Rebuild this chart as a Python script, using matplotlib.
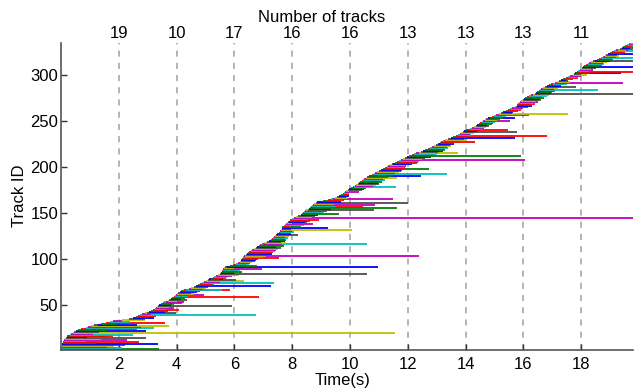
import numpy as np
import matplotlib
matplotlib.use("Agg")
import matplotlib.pyplot as plt

# track start / end times (s), track ID = position in list (1-based)
starts = [
    0.0, 0.0, 0.0, 0.02, 0.03, 0.04, 0.05, 0.05, 0.07, 0.08,
    0.1, 0.12, 0.15, 0.18, 0.2, 0.22, 0.27, 0.3, 0.35, 0.4,
    0.45, 0.52, 0.6, 0.7, 0.85, 0.95, 1.05, 1.15, 1.28, 1.4,
    1.55, 1.68, 1.8, 2.1, 2.35, 2.5, 2.6, 2.68, 2.75, 2.8,
    2.9, 2.98, 3.05, 3.12, 3.2, 3.25, 3.28, 3.32, 3.36, 3.4,
    3.45, 3.52, 3.58, 3.64, 3.7, 3.75, 3.8, 3.85, 3.9, 3.95,
    3.98, 4.02, 4.06, 4.1, 4.15, 4.25, 4.33, 4.42, 4.5, 4.6,
    4.67, 4.74, 4.81, 4.88, 4.95, 5.01, 5.07, 5.13, 5.19, 5.25,
    5.31, 5.37, 5.43, 5.49, 5.53, 5.56, 5.58, 5.6, 5.62, 5.64,
    5.66, 5.75, 5.85, 5.95, 6.05, 6.12, 6.2, 6.22, 6.24, 6.26,
    6.28, 6.3, 6.32, 6.36, 6.4, 6.44, 6.48, 6.52, 6.56, 6.62,
    6.68, 6.73, 6.78, 6.84, 6.9, 6.95, 7.0, 7.06, 7.12, 7.18,
    7.25, 7.29, 7.33, 7.37, 7.4, 7.44, 7.49, 7.53, 7.55, 7.57,
    7.59, 7.61, 7.63, 7.64, 7.65, 7.7, 7.74, 7.78, 7.83, 7.86,
    7.89, 7.92, 7.94, 8.0, 8.07, 8.14, 8.21, 8.29, 8.33, 8.37,
    8.41, 8.45, 8.49, 8.53, 8.57, 8.61, 8.65, 8.69, 8.73, 8.77,
    8.81, 8.85, 9.05, 9.25, 9.33, 9.4, 9.47, 9.54, 9.62, 9.7,
    9.74, 9.78, 9.82, 9.86, 9.92, 9.98, 10.04, 10.09, 10.12, 10.17,
    10.22, 10.27, 10.31, 10.36, 10.41, 10.46, 10.5, 10.55, 10.6, 10.64,
    10.7, 10.76, 10.82, 10.88, 10.93, 11.0, 11.07, 11.14, 11.21, 11.28,
    11.33, 11.39, 11.45, 11.5, 11.56, 11.62, 11.69, 11.76, 11.83, 11.9,
    11.97, 12.05, 12.13, 12.21, 12.29, 12.37, 12.45, 12.53, 12.61, 12.69,
    12.76, 12.83, 12.9, 12.97, 13.04, 13.1, 13.16, 13.21, 13.26, 13.3,
    13.39, 13.48, 13.57, 13.66, 13.75, 13.8, 13.85, 13.9, 13.95, 14.0,
    14.07, 14.14, 14.21, 14.28, 14.35, 14.4, 14.45, 14.5, 14.55, 14.6,
    14.66, 14.72, 14.78, 14.84, 14.9, 14.98, 15.06, 15.14, 15.22, 15.3,
    15.38, 15.46, 15.54, 15.62, 15.7, 15.73, 15.76, 15.79, 15.82, 15.85,
    15.89, 15.93, 15.97, 16.01, 16.05, 16.12, 16.19, 16.26, 16.33, 16.4,
    16.44, 16.48, 16.52, 16.56, 16.6, 16.67, 16.74, 16.81, 16.88, 16.95,
    17.02, 17.09, 17.16, 17.23, 17.3, 17.38, 17.46, 17.54, 17.62, 17.7,
    17.74, 17.78, 17.82, 17.86, 17.9, 17.94, 17.98, 18.02, 18.06, 18.1,
    18.16, 18.22, 18.28, 18.34, 18.4, 18.47, 18.54, 18.61, 18.68, 18.75,
    18.81, 18.87, 18.93, 18.99, 19.05, 19.12, 19.19, 19.26, 19.33, 19.4,
    19.46, 19.52, 19.58, 19.64, 19.7,
]
ends = [
    2.36, 3.39, 1.95, 2.12, 1.6, 1.84, 2.2, 3.37, 1.2, 2.7,
    0.86, 2.3, 1.4, 2.95, 0.9, 1.55, 1.8, 2.5, 1.1, 11.55,
    1.3, 2.95, 1.6, 2.64, 3.22, 2.77, 3.73, 1.9, 2.64, 1.95,
    3.6, 2.4, 2.12, 2.9, 2.9, 3.22, 3.0, 3.3, 6.76, 3.1,
    3.5, 3.97, 3.6, 3.7, 4.08, 3.65, 3.9, 3.75, 5.93, 3.8,
    3.9, 4.2, 3.95, 4.25, 4.0, 4.35, 4.15, 4.3, 6.85, 4.4,
    4.94, 4.6, 4.5, 4.7, 4.8, 5.85, 5.56, 4.9, 5.0, 5.1,
    7.25, 5.3, 5.2, 7.37, 5.5, 6.33, 6.05, 5.6, 5.45, 5.7,
    5.75, 5.9, 6.15, 10.6, 6.0, 6.25, 6.1, 6.2, 6.96, 5.98,
    6.3, 10.95, 6.77, 6.4, 6.5, 6.55, 6.6, 6.7, 6.75, 6.8,
    7.54, 7.0, 12.4, 7.1, 7.15, 7.31, 7.2, 7.35, 7.4, 7.45,
    7.5, 7.6, 7.45, 7.7, 7.55, 10.6, 7.65, 7.79, 7.6, 7.75,
    7.8, 7.7, 7.85, 7.75, 7.9, 8.2, 7.95, 7.85, 7.95, 8.05,
    7.98, 10.07, 7.97, 9.24, 8.3, 7.9, 8.4, 8.72, 7.99, 8.5,
    8.45, 8.6, 8.92, 8.55, 19.8, 8.7, 8.8, 8.9, 9.63, 9.0,
    9.1, 9.2, 9.3, 10.84, 9.35, 11.64, 10.45, 9.5, 10.87, 9.45,
    12.0, 9.7, 9.6, 9.8, 9.75, 11.5, 9.9, 9.85, 9.95, 9.9,
    9.97, 9.98, 10.3, 9.95, 10.4, 10.5, 10.55, 10.6, 11.6, 10.8,
    10.9, 11.0, 10.95, 11.1, 11.05, 11.2, 11.15, 11.62, 11.3, 12.45,
    11.4, 11.5, 13.35, 11.55, 11.7, 11.75, 11.8, 12.74, 11.9, 11.85,
    11.95, 11.9, 11.98, 12.15, 12.3, 12.35, 12.4, 16.07, 12.5, 12.6,
    12.8, 15.9, 12.9, 13.0, 13.1, 13.75, 13.05, 13.2, 13.3, 13.25,
    13.4, 13.35, 13.5, 13.45, 13.6, 13.55, 14.34, 13.7, 13.8, 14.05,
    13.95, 15.7, 14.1, 16.8, 14.2, 14.15, 14.3, 15.76, 14.4, 14.45,
    15.47, 14.6, 14.65, 14.7, 14.8, 14.75, 14.9, 14.95, 15.0, 15.55,
    15.1, 15.2, 15.7, 15.3, 15.25, 15.4, 16.2, 17.54, 15.6, 15.65,
    15.8, 15.9, 15.95, 15.98, 15.95, 16.15, 16.3, 16.25, 16.4, 16.35,
    16.5, 16.45, 16.6, 16.55, 16.7, 16.65, 16.8, 16.75, 16.9, 19.8,
    16.95, 17.0, 17.1, 18.57, 17.05, 17.2, 17.8, 17.3, 17.25, 17.4,
    17.5, 19.43, 17.6, 17.55, 17.48, 17.7, 17.9, 17.85, 18.0, 18.2,
    17.98, 19.38, 18.3, 19.8, 18.25, 18.4, 18.35, 18.5, 19.8, 18.6,
    18.7, 18.8, 18.75, 18.9, 19.8, 19.0, 19.1, 19.05, 19.8, 19.2,
    19.3, 19.25, 19.8, 19.4, 19.5, 19.8, 19.6, 19.55, 19.8, 19.7,
    19.8, 19.75, 19.8, 19.8, 19.8,
]

# number of live tracks written above the dashed lines
count_times = [2, 4, 6, 8, 10, 12, 14, 16, 18]
track_counts = [19, 10, 17, 16, 16, 13, 13, 13, 11]

# matlab-style colour order b g r c m y k
cycle = [(0, 0, 1), (0, 0.5, 0), (1, 0, 0), (0, 0.75, 0.75),
         (0.75, 0, 0.75), (0.75, 0.75, 0), (0.3, 0.3, 0.3)]

plt.rcParams['font.family'] = ['Liberation Sans', 'DejaVu Sans']

fig = plt.figure(figsize=(6.34, 3.9), dpi=100)
ax = fig.add_axes([0.0962, 0.1026, 0.9018, 0.7879])

ids = np.arange(1, len(starts) + 1)
cols = [cycle[(i - 1) % 7] for i in ids]
ax.hlines(ids, starts, ends, colors=cols, linewidth=1.3)

for t in count_times:
    ax.axvline(t, color='#a0a0a0', linestyle=(0, (4, 4)), linewidth=1.1, zorder=0)
for t, n in zip(count_times, track_counts):
    ax.text(t, 1.005, str(n), transform=ax.get_xaxis_transform(),
            ha='center', va='bottom', fontsize=12)

ax.set_xlim(0, 19.78)
ax.set_ylim(1.3, 335.4)
ax.set_xticks(count_times)
ax.set_yticks([50, 100, 150, 200, 250, 300])
ax.tick_params(direction='in', length=4, width=1, colors='#333333',
               labelsize=12, labelcolor='black')
ax.tick_params(axis='y', pad=2)
ax.tick_params(axis='x', pad=5)
for s in ['top', 'right']:
    ax.spines[s].set_visible(False)
for s in ['left', 'bottom']:
    ax.spines[s].set_color('#555555')
    ax.spines[s].set_linewidth(1.2)

fig.text(321.5 / 634, 1 - 17 / 390, 'Number of tracks', ha='center', va='center', fontsize=12)
fig.text(343 / 634, 1 - 380 / 390, 'Time(s)', ha='center', va='center', fontsize=12)
fig.text(20 / 634, 1 - 196 / 390, 'Track ID', ha='center', va='center',
         rotation=90, fontsize=12)

fig.savefig('out.png', dpi=100)
